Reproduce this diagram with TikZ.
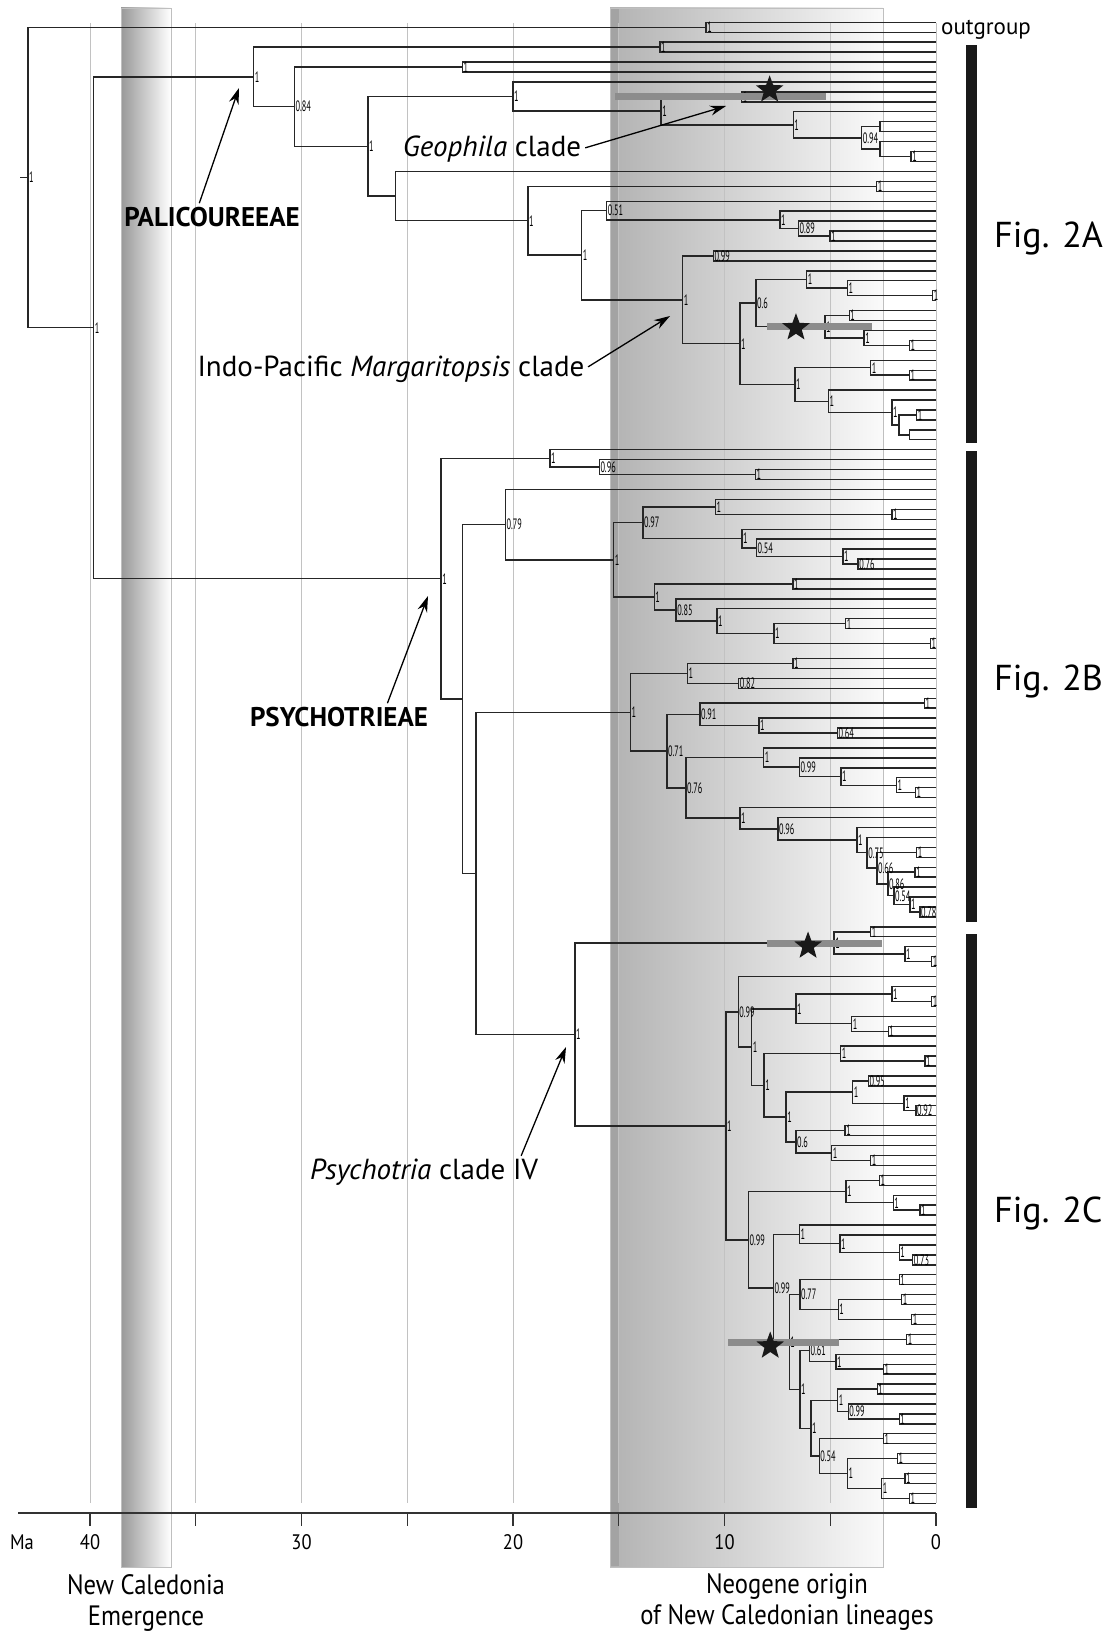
\documentclass[tikz,border=0pt]{standalone}
\usepackage{fontspec}
\setmainfont{PT Sans}
\usepackage{graphicx}
\usetikzlibrary{arrows.meta,calc,shapes.geometric}
\tikzset{
  declare function={ma(\a)=936-21.15*\a;},
  br/.style      ={line width=1.4pt, draw=black!85, line join=miter},
  pp/.style      ={anchor=west, inner sep=1pt, font=\fontsize{15}{15}\selectfont},
  hpd/.style     ={fill=black!45},
  starmark/.style={star, star points=5, star point ratio=2.4, fill=black!90,
                   minimum size=29pt, inner sep=0pt},
  gridline/.style={draw=black!24, line width=0.8pt},
  axisline/.style={line width=1.3pt, draw=black!80},
  ticklab/.style ={font=\fontsize{21}{21}\selectfont, inner sep=0pt},
  cladelab/.style={font=\fontsize{29}{29}\selectfont, inner sep=0pt},
  boldlab/.style ={font=\fontsize{27}{27}\selectfont\bfseries, inner sep=0pt},
  figlab/.style  ={font=\fontsize{36}{36}\selectfont, inner sep=0pt, anchor=west},
  notelab/.style ={font=\fontsize{28}{31}\selectfont, inner sep=0pt, align=center},
  arr/.style     ={-{Stealth[length=16pt,width=10pt]}, line width=1.3pt},
  figbar/.style  ={fill=black!90},
}
\newcommand{\narrow}[1]{\scalebox{0.55}[1]{#1}}
\newcommand{\cond}[1]{\scalebox{0.88}[1]{#1}}
% name, age (Ma), upper child, lower child, posterior
\newcommand{\clade}[5]{%
  \path let \p1=($(#3)!.5!(#4)$) in ({ma(#2)*1pt},\y1) coordinate (#1);
  \draw[br] (#3) -| (#1) |- (#4);
  \node[pp] at (#1) {\narrow{#5}};}
% node, oldest, youngest age of the interval
\newcommand{\hpd}[3]{%
  \fill[hpd] let \p1=(#1) in ({ma(#2)*1pt},{\y1+3.5pt}) rectangle ({ma(#3)*1pt},{\y1-3.5pt});}

\begin{document}
\begin{tikzpicture}[x=1pt,y=-1pt]
  \useasboundingbox (0,0) rectangle (1110,1635);
  % time windows
  \shade[left color=black!40, right color=white, draw=black!25, line width=0.8pt]
    (121,8) rectangle (171,1567);
  \shade[left color=black!30, middle color=black!10, right color=black!2, draw=black!25, line width=0.8pt]
    (610,8) rectangle (883,1567);
  \fill[black!36] (611,9) rectangle (619,1566);
  \foreach \a in {0,5,...,40}
    \draw[gridline] ({ma(\a)},23) -- ({ma(\a)},1503);

  % tips
  \foreach \i in {1,...,150}
    \coordinate (t\i) at (936,{22.3+9.94*(\i-1)});

  % outgroup
  \clade{og}{10.87}{t1}{t2}{1}
  % Palicoureeae
  \clade{p1}{13.05}{t3}{t4}{1}
  \clade{p2}{22.39}{t5}{t6}{1}
  \clade{geo}{9.19}{t8}{t9}{1}
  \clade{p4}{2.65}{t11}{t12}{}
  \clade{p5}{1.18}{t14}{t15}{1}
  \clade{p6}{2.65}{t13}{p5}{}
  \clade{p7}{3.51}{p4}{p6}{0.94}
  \clade{p8}{6.75}{t10}{p7}{1}
  \clade{p9}{13.00}{geo}{p8}{1}
  \clade{p10}{20.00}{t7}{p9}{1}
  \clade{p11}{2.80}{t17}{t18}{1}
  \clade{p12}{5.01}{t22}{t23}{1}
  \clade{p13}{6.51}{t21}{p12}{0.89}
  \clade{p14}{7.38}{t20}{p13}{1}
  \clade{p15}{15.57}{t19}{p14}{0.51}
  \clade{m1}{10.53}{t24}{t25}{0.99}
  \clade{m2}{0.16}{t28}{t29}{1}
  \clade{m3}{4.19}{t27}{m2}{1}
  \clade{m4}{6.11}{t26}{m3}{1}
  \clade{m5}{4.10}{t30}{t31}{1}
  \clade{m6}{1.26}{t33}{t34}{1}
  \clade{m7}{3.40}{t32}{m6}{1}
  \clade{mar}{5.25}{m5}{m7}{1}
  \clade{m9}{8.51}{m4}{mar}{0.6}
  \clade{m10}{1.26}{t36}{t37}{1}
  \clade{m11}{3.09}{t35}{m10}{1}
  \clade{m12}{0.91}{t40}{t41}{1}
  \clade{m13}{1.26}{t42}{t43}{}
  \clade{m14}{1.75}{m12}{m13}{}
  \clade{m15}{2.09}{t39}{m14}{1}
  \clade{m16}{5.09}{t38}{m15}{1}
  \clade{m17}{6.67}{m11}{m16}{1}
  \clade{m18}{9.27}{m9}{m17}{1}
  \clade{m19}{11.98}{m1}{m18}{1}
  \clade{p16}{16.75}{p15}{m19}{1}
  \clade{p17}{19.30}{p11}{p16}{1}
  \clade{p18}{25.56}{t16}{p17}{}
  \clade{p19}{26.86}{p10}{p18}{1}
  \clade{p20}{30.33}{p2}{p19}{0.84}
  \clade{pal}{32.26}{p1}{p20}{1}
  % Psychotrieae, Fig. 2B
  \clade{s1}{8.54}{t46}{t47}{1}
  \clade{s2}{15.92}{t45}{s1}{0.96}
  \clade{s3}{18.25}{t44}{s2}{1}
  \clade{s4}{2.08}{t50}{t51}{1}
  \clade{s5}{10.43}{t49}{s4}{1}
  \clade{s6}{3.68}{t55}{t56}{0.76}
  \clade{s7}{4.40}{t54}{s6}{1}
  \clade{s8}{8.49}{t53}{s7}{0.54}
  \clade{s9}{9.18}{t52}{s8}{1}
  \clade{s10}{13.86}{s5}{s9}{0.97}
  \clade{s11}{6.77}{t57}{t58}{1}
  \clade{s12}{4.27}{t61}{t62}{1}
  \clade{s13}{0.26}{t63}{t64}{1}
  \clade{s14}{7.66}{s12}{s13}{1}
  \clade{s15}{10.36}{t60}{s14}{1}
  \clade{s16}{12.29}{t59}{s15}{0.85}
  \clade{s17}{13.32}{s11}{s16}{1}
  \clade{s18}{15.24}{s10}{s17}{1}
  \clade{s19}{20.36}{t48}{s18}{0.79}
  \clade{b1}{6.77}{t65}{t66}{1}
  \clade{b2}{9.33}{t67}{t68}{0.82}
  \clade{b3}{11.75}{b1}{b2}{1}
  \clade{b4}{0.55}{t69}{t70}{1}
  \clade{b5}{4.66}{t72}{t73}{0.64}
  \clade{b6}{8.37}{t71}{b5}{1}
  \clade{b7}{11.16}{b4}{b6}{0.91}
  \clade{b8}{0.97}{t78}{t79}{1}
  \clade{b9}{1.87}{t77}{b8}{1}
  \clade{b10}{4.49}{t76}{b9}{1}
  \clade{b11}{6.46}{t75}{b10}{0.99}
  \clade{b12}{8.15}{t74}{b11}{1}
  \clade{b13}{0.76}{t90}{t91}{0.78}
  \clade{b14}{1.23}{t89}{b13}{1}
  \clade{b15}{1.99}{t88}{b14}{0.54}
  \clade{b16}{0.99}{t86}{t87}{1}
  \clade{b17}{2.27}{b16}{b15}{0.86}
  \clade{b18}{0.91}{t84}{t85}{1}
  \clade{b19}{2.79}{b18}{b17}{0.66}
  \clade{b20}{3.26}{t83}{b19}{0.75}
  \clade{b21}{3.74}{t82}{b20}{1}
  \clade{b22}{7.48}{t81}{b21}{0.96}
  \clade{b23}{9.27}{t80}{b22}{1}
  \clade{b24}{11.83}{b12}{b23}{0.76}
  \clade{b25}{12.72}{b7}{b24}{0.71}
  \clade{b26}{14.45}{b3}{b25}{1}
  % Psychotria clade IV, Fig. 2C
  \clade{c1}{3.09}{t92}{t93}{1}
  \clade{c2}{0.20}{t95}{t96}{1}
  \clade{c3}{1.47}{t94}{c2}{1}
  \clade{cla}{4.82}{c1}{c3}{1}
  \clade{c5}{0.20}{t99}{t100}{1}
  \clade{c6}{2.09}{t98}{c5}{1}
  \clade{c7}{2.26}{t102}{t103}{1}
  \clade{c8}{3.99}{t101}{c7}{1}
  \clade{c9}{6.62}{c6}{c8}{1}
  \clade{c10}{0.52}{t105}{t106}{1}
  \clade{c11}{4.51}{t104}{c10}{1}
  \clade{c12}{3.20}{t107}{t108}{0.95}
  \clade{c13}{0.95}{t110}{t111}{0.92}
  \clade{c14}{1.51}{t109}{c13}{1}
  \clade{c15}{3.94}{c12}{c14}{1}
  \clade{c16}{4.30}{t112}{t113}{1}
  \clade{c17}{3.09}{t115}{t116}{1}
  \clade{c18}{4.93}{t114}{c17}{1}
  \clade{c19}{6.62}{c16}{c18}{0.6}
  \clade{c20}{7.09}{c15}{c19}{1}
  \clade{c21}{8.13}{c11}{c20}{1}
  \clade{c22}{8.71}{c9}{c21}{1}
  \clade{c23}{9.35}{t97}{c22}{0.99}
  \clade{c24}{2.68}{t117}{t118}{1}
  \clade{c25}{0.76}{t120}{t121}{1}
  \clade{c26}{2.02}{t119}{c25}{1}
  \clade{c27}{4.26}{c24}{c26}{1}
  \clade{c28}{1.10}{t125}{t126}{0.73}
  \clade{c29}{1.74}{t124}{c28}{1}
  \clade{c30}{4.54}{t123}{c29}{1}
  \clade{c31}{6.46}{t122}{c30}{1}
  \clade{c32}{1.74}{t127}{t128}{1}
  \clade{c33}{1.62}{t129}{t130}{1}
  \clade{c34}{1.15}{t131}{t132}{1}
  \clade{c35}{4.62}{c33}{c34}{1}
  \clade{c36}{6.43}{c32}{c35}{0.77}
  \clade{c37}{1.39}{t133}{t134}{1}
  \clade{c38}{2.49}{t136}{t137}{1}
  \clade{c39}{4.73}{t135}{c38}{1}
  \clade{c40}{5.99}{c37}{c39}{0.61}
  \clade{c41}{2.78}{t138}{t139}{1}
  \clade{c42}{1.74}{t141}{t142}{1}
  \clade{c43}{4.15}{t140}{c42}{0.99}
  \clade{c44}{4.65}{c41}{c43}{1}
  \clade{c45}{2.49}{t143}{t144}{1}
  \clade{c46}{1.83}{t145}{t146}{1}
  \clade{c47}{1.47}{t147}{t148}{1}
  \clade{c48}{1.26}{t149}{t150}{1}
  \clade{c49}{2.57}{c47}{c48}{1}
  \clade{c50}{4.19}{c46}{c49}{1}
  \clade{c51}{5.52}{c45}{c50}{0.54}
  \clade{c52}{5.92}{c44}{c51}{1}
  \clade{c53}{6.43}{c40}{c52}{1}
  \clade{clb}{6.94}{c36}{c53}{1}
  \clade{c55}{7.69}{c31}{clb}{0.99}
  \clade{c56}{8.87}{c27}{c55}{0.99}
  \clade{c57}{9.93}{c23}{c56}{1}
  \clade{c58}{17.07}{cla}{c57}{1}
  \clade{s20}{21.75}{b26}{c58}{}
  \clade{s21}{22.39}{s19}{s20}{}
  \clade{psy}{23.40}{s3}{s21}{1}
  % backbone
  \clade{ing}{39.83}{pal}{psy}{1}
  \clade{root}{42.94}{og}{ing}{1}
  \draw[br] (root) -- ++(-8,0);

  % age intervals and stars
  \hpd{geo}{15.2}{5.2}
  \hpd{mar}{8.0}{3.05}
  \hpd{cla}{8.0}{2.55}
  \hpd{clb}{9.85}{4.6}
  \node[starmark] (stA) at ($(geo)+(28,-7)$) {};
  \node[starmark] (stM) at ($(mar)+(-29,1)$) {};
  \node[starmark] (stC) at ($(cla)+(-26,3)$) {};
  \node[starmark] (stD) at ($(clb)+(-19,4)$) {};

  % clade labels
  \node[font=\fontsize{23}{23}\selectfont, anchor=west, inner sep=0pt] (ogt) at (941,30) {outgroup};
  \node[boldlab] (palt) at (212,217) {PALICOUREEAE};
  \coordinate (palh) at (239,88);
  \draw[arr, shorten <=4pt] ([xshift=-14pt]palt.north) -- (palh);
  \node[cladelab] (geot) at (492,149) {\emph{Geophila} clade};
  \coordinate (geoh) at (726,106);
  \draw[arr, shorten <=4pt] (geot.east) -- (geoh);
  \node[cladelab] (mart) at (391,369) {Indo-Pacific \emph{Margaritopsis} clade};
  \coordinate (marh) at (670,316);
  \draw[arr, shorten <=4pt] (mart.east) -- (marh);
  \node[boldlab] (psyt) at (339,717) {PSYCHOTRIEAE};
  \coordinate (psyh) at (428,596);
  \draw[arr, shorten <=4pt] ([xshift=47pt]psyt.north) -- (psyh);
  \node[cladelab] (pct) at (424,1172) {\emph{Psychotria} clade IV};
  \coordinate (pch) at (566,1047);
  \draw[arr, shorten <=3pt] ([xshift=96pt]pct.north) -- (pch);

  % figure parts
  \fill[figbar] (966,45) rectangle (977,443);
  \fill[figbar] (966,451) rectangle (977,922);
  \fill[figbar] (966,934) rectangle (977,1508);
  \node[figlab] (figA) at (994,238) {Fig. 2A};
  \node[figlab] (figB) at (994,681) {Fig. 2B};
  \node[figlab] (figC) at (994,1213) {Fig. 2C};

  % time axis
  \draw[axisline] (18,1513) -- ({ma(0)},1513);
  \foreach \a in {0,5,...,40}
    \draw[axisline] ({ma(\a)},1513) -- ++(0,13);
  \foreach \a in {0,10,...,40}
    \node[ticklab] (tk\a) at ({ma(\a)},1542) {\cond{\a}};
  \node[ticklab] (mat) at (22,1542) {\cond{Ma}};
  \node[notelab] (nct) at (146,1603) {\cond{New Caledonia}\\\cond{Emergence}};
  \node[notelab] (neot) at (787,1602) {\cond{Neogene origin}\\\cond{of New Caledonian lineages}};
\end{tikzpicture}
\end{document}
